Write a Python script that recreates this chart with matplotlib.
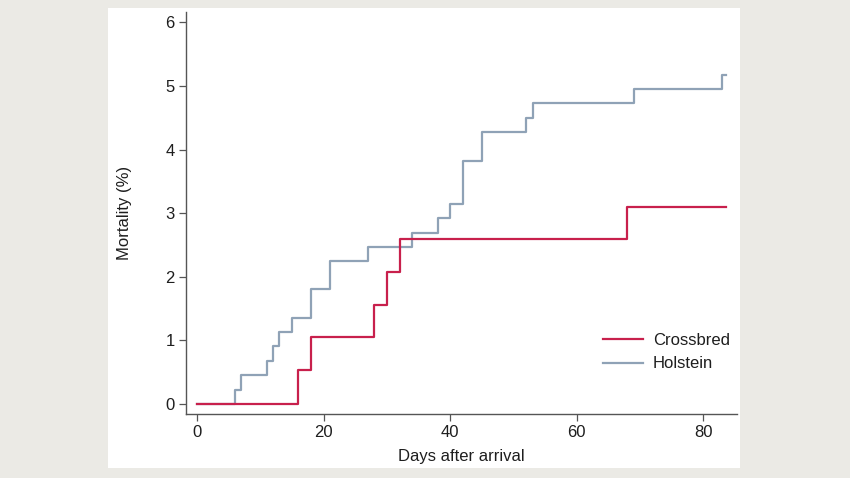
import numpy as np
import matplotlib.pyplot as plt
from matplotlib.patches import Rectangle

plt.rcParams['font.family'] = ['Liberation Sans', 'DejaVu Sans']

# step points (day, cumulative mortality %)
cross_days = [0, 16, 18, 28, 30, 32, 68, 83.6]
cross_mort = [0, 0.52, 1.04, 1.55, 2.07, 2.59, 3.10, 3.10]

hol_days = [0, 6, 7, 11, 12, 13, 15, 18, 21, 27, 34, 38, 40, 42, 45, 52, 53, 69, 83, 83.6]
hol_mort = [0, 0.22, 0.45, 0.67, 0.90, 1.12, 1.35, 1.80, 2.24, 2.47, 2.69,
            2.92, 3.14, 3.82, 4.27, 4.50, 4.73, 4.95, 5.17, 5.17]

xticks = [0, 20, 40, 60, 80]
yticks = [0, 1, 2, 3, 4, 5, 6]

red = '#c8204c'
blue = '#8fa2b6'
axcol = '#555555'
txt = '#1e1e1e'

fig = plt.figure(figsize=(8.5, 4.78), dpi=100)
fig.patch.set_facecolor('#ebeae5')
W, H = 850, 478
# white plot panel
fig.patches.append(Rectangle((108 / W, 1 - 468 / H), (740 - 108) / W, (468 - 8) / H,
                             transform=fig.transFigure, facecolor='white',
                             edgecolor='none', zorder=-10))

ax = fig.add_axes([186 / W, 64 / H, (737 - 186) / W, (414 - 11.7) / H])
ax.set_facecolor('none')

ax.step(cross_days, cross_mort, where='post', color=red, lw=1.6, label='Crossbred', zorder=3)
ax.step(hol_days, hol_mort, where='post', color=blue, lw=1.6, label='Holstein', zorder=2)

ax.set_xlim(-1.74, 85.3)
ax.set_ylim(-0.165, 6.17)
ax.set_xticks(xticks)
ax.set_yticks(yticks)
for s in ['top', 'right']:
    ax.spines[s].set_visible(False)
for s in ['left', 'bottom']:
    ax.spines[s].set_color(axcol)
    ax.spines[s].set_linewidth(1.0)
ax.tick_params(direction='out', length=4.7, width=0.9, color=axcol,
               labelsize=12, labelcolor=txt, pad=3.4)

ax.set_xlabel('Days after arrival', fontsize=12, color=txt, labelpad=6)
ax.set_ylabel('Mortality (%)', fontsize=12, color=txt, labelpad=24)

leg = ax.legend(loc='upper left', bbox_to_anchor=(603 / W, 1 - 333 / H),
                bbox_transform=fig.transFigure, frameon=False, fontsize=12,
                handlelength=2.4, handletextpad=0.58, borderpad=0, borderaxespad=0,
                labelspacing=0.5)
for t in leg.get_texts():
    t.set_color(txt)

fig.savefig('out.png', dpi=100, facecolor=fig.get_facecolor())
